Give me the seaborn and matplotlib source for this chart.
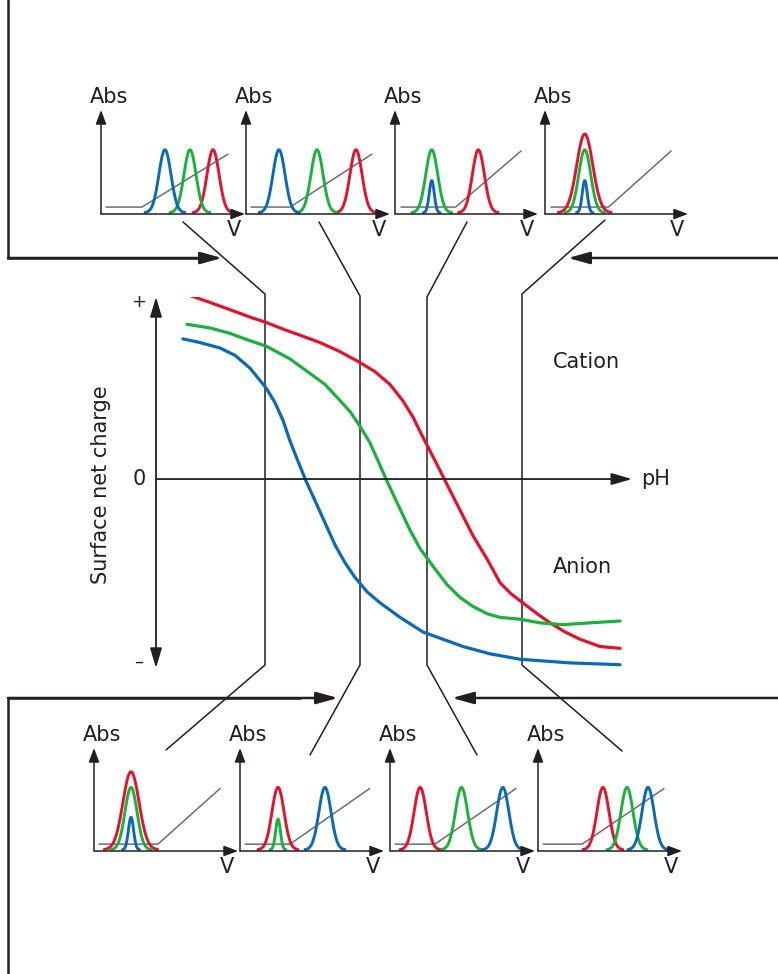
import numpy as np
import pandas as pd
import matplotlib
matplotlib.use('Agg')
import matplotlib.pyplot as plt
import seaborn as sns

sns.set_style('white')
plt.rcParams['font.family'] = ['DejaVu Sans']

RED, GREEN, BLUE = '#e1142d', '#1bb03f', '#0b69b6'
INK = '#231f20'
GREY = '#6d6e71'

# surface net charge vs pH, one curve per protein
red_ph = [0.97, 1.59, 2.18, 2.76, 3.24, 3.79, 4.24, 4.82, 5.41, 6.00, 6.44, 6.88, 7.26, 7.56, 7.85,
          8.21, 8.56, 8.94, 9.32, 9.74, 10.12, 10.44, 10.79, 11.21, 11.59, 12.03, 12.47, 13.06, 13.65]
red_charge = [1.01, 0.97, 0.93, 0.89, 0.86, 0.82, 0.79, 0.75, 0.70, 0.64, 0.59, 0.52, 0.43, 0.34, 0.23,
              0.10, -0.03, -0.17, -0.31, -0.44, -0.57, -0.63, -0.68, -0.74, -0.79, -0.84, -0.88, -0.92, -0.93]
green_ph = [0.91, 1.59, 2.18, 2.76, 3.24, 3.94, 4.53, 4.97, 5.32, 5.71, 6.00, 6.29, 6.53, 6.79,
            7.09, 7.47, 7.76, 8.15, 8.56, 8.94, 9.32, 9.74, 10.12, 10.71, 11.29, 11.97, 12.76, 13.65]
green_charge = [0.85, 0.83, 0.80, 0.76, 0.73, 0.66, 0.58, 0.52, 0.45, 0.37, 0.29, 0.20, 0.10, -0.01,
                -0.13, -0.28, -0.38, -0.48, -0.58, -0.65, -0.70, -0.74, -0.76, -0.77, -0.79, -0.80, -0.79, -0.78]
blue_ph = [0.79, 1.29, 1.88, 2.32, 2.76, 3.24, 3.50, 3.74, 3.94, 4.15, 4.41, 4.68, 4.97, 5.26, 5.56,
           5.85, 6.21, 6.59, 7.18, 7.85, 8.44, 9.03, 9.82, 10.71, 12.18, 13.65]
blue_charge = [0.77, 0.75, 0.72, 0.68, 0.61, 0.50, 0.42, 0.32, 0.21, 0.11, -0.01, -0.12, -0.24, -0.36, -0.46,
               -0.54, -0.62, -0.68, -0.76, -0.84, -0.88, -0.92, -0.96, -0.99, -1.01, -1.02]

# small elution profiles: peak position (V) and height (Abs), order red, green, blue
top_centres = [[7.78, 6.18, 4.44], [7.64, 4.93, 2.29], [5.83, 2.57, 2.57], [2.78, 2.78, 2.78]]
top_heights = [[1.0, 1.0, 1.0], [1.0, 1.0, 1.0], [1.0, 1.0, 0.51], [1.25, 1.0, 0.51]]
bottom_centres = [[2.57, 2.57, 2.57], [2.64, 2.64, 5.9], [2.08, 4.93, 7.78], [4.51, 6.18, 7.64]]
bottom_heights = [[1.25, 1.0, 0.52], [1.0, 0.49, 1.0], [1.0, 1.0, 1.0], [1.0, 1.0, 1.0]]
# gradient line: start V, ramp start V, ramp end V, end level
top_ramp = [[0.35, 2.85, 8.82, 0.95], [0.35, 3.06, 8.75, 0.95], [0.42, 4.24, 8.82, 1.0], [0.42, 4.44, 8.82, 1.0]]
bottom_ramp = [[0.35, 4.44, 8.75, 1.0], [0.35, 3.47, 9.0, 1.0], [0.35, 3.1, 8.68, 1.0], [0.35, 3.06, 8.75, 1.0]]
ramp_floor = 0.11

W, H = 778, 974
fig = plt.figure(figsize=(W / 100, H / 100), dpi=100)


def px_axes(x0, x1, ytop, ybot):
    a = fig.add_axes([x0 / W, 1 - ybot / H, (x1 - x0) / W, (ybot - ytop) / H])
    a.set_facecolor('none')
    a.axis('off')
    return a


def arrow(ax, start, end, lw, hl, hw, coords='data', style='-|>'):
    ax.annotate('', xy=end, xytext=start, xycoords=coords, textcoords=coords,
                arrowprops=dict(arrowstyle=f'{style},head_length={hl},head_width={hw}',
                                color=INK, lw=lw, shrinkA=0, shrinkB=0, mutation_scale=10),
                annotation_clip=False)


# overlay in pixel coordinates: connectors and feed arrows
ov = fig.add_axes([0, 0, 1, 1])
ov.set_xlim(0, W)
ov.set_ylim(H, 0)
ov.axis('off')

connectors = [
    [(183, 222), (265, 294), (265, 665), (166, 750)],
    [(319, 222), (360, 296), (360, 665), (310, 755)],
    [(467, 222), (427, 297), (427, 665), (477, 755)],
    [(605, 220), (522, 294), (522, 665), (622, 751)],
]
for c in connectors:
    xs, ys = zip(*c)
    ov.plot(xs, ys, color=INK, lw=1.1, solid_joinstyle='miter')

ov.plot([8, 8, 200], [0, 258, 258], color=INK, lw=1.8, solid_joinstyle='miter')
arrow(ov, (8, 258), (222, 258), 1.8, 1.3, 0.36)
arrow(ov, (778, 258), (568, 258), 1.8, 1.3, 0.36)
ov.plot([8, 8, 300], [974, 698, 698], color=INK, lw=1.8, solid_joinstyle='miter')
arrow(ov, (8, 698), (338, 698), 1.8, 1.3, 0.36)
arrow(ov, (778, 698), (452, 698), 1.8, 1.3, 0.36)

# main chart
main = px_axes(156, 632, 297, 668)
main.set_xlim(0, 14)
main.set_ylim(-1.038, 1.0)
arrow(main, (0, -1.038), (0, 1.0), 1.3, 1.2, 0.36, style='<|-|>')
arrow(main, (0, 0), (14, 0), 1.3, 1.25, 0.36)

curves = pd.concat([
    pd.DataFrame({'pH': red_ph, 'charge': red_charge, 'protein': 'red'}),
    pd.DataFrame({'pH': green_ph, 'charge': green_charge, 'protein': 'green'}),
    pd.DataFrame({'pH': blue_ph, 'charge': blue_charge, 'protein': 'blue'}),
])
sns.lineplot(data=curves, x='pH', y='charge', hue='protein',
             palette={'red': RED, 'green': GREEN, 'blue': BLUE},
             estimator=None, sort=False, lw=2.3, legend=False, ax=main)
main.axis('off')

ov.text(139, 302, '+', ha='center', va='center', fontsize=13, color=INK)
ov.text(139, 479, '0', ha='center', va='center', fontsize=15, color=INK)
ov.text(139, 662, '\u2013', ha='center', va='center', fontsize=13, color=INK)
ov.text(101, 485, 'Surface net charge', rotation=90, ha='center', va='center', fontsize=15, color=INK)
ov.text(641, 479, 'pH', ha='left', va='center', fontsize=15, color=INK)
ov.text(553, 362, 'Cation', ha='left', va='center', fontsize=15, color=INK)
ov.text(553, 567, 'Anion', ha='left', va='center', fontsize=15, color=INK)


def profile(ax, centres, heights, ramp):
    ax.set_xlim(0, 10)
    ax.set_ylim(0, 1.65)
    x0, r0, r1, level = ramp
    ax.plot([x0, r0, r1], [ramp_floor, ramp_floor, level], color=GREY, lw=1.1)
    for col, c, h in zip([RED, GREEN, BLUE], centres, heights):
        s = 0.42 * h ** 1.3
        v = np.linspace(c - 3.3 * s, c + 3.3 * s, 80)
        ax.plot(v, 0.02 + h * np.exp(-0.5 * ((v - c) / s) ** 2), color=col, lw=2.1)
    arrow(ax, (0, 0), (0, 1), 1.1, 0.85, 0.32, coords='axes fraction')
    arrow(ax, (0, 0), (1, 0), 1.1, 0.85, 0.32, coords='axes fraction')
    ax.text(-0.08, 1.125, 'Abs', transform=ax.transAxes, ha='left', va='center', fontsize=15, color=INK)
    ax.text(0.92, -0.155, 'V', transform=ax.transAxes, ha='center', va='center', fontsize=15, color=INK)


top_x = [(101, 245), (246, 390), (395, 538), (545, 688)]
bottom_x = [(94, 238), (240, 384), (390, 535), (538, 682)]
for (a, b), cen, hts, rp in zip(top_x, top_centres, top_heights, top_ramp):
    profile(px_axes(a, b, 110, 214), cen, hts, rp)
for (a, b), cen, hts, rp in zip(bottom_x, bottom_centres, bottom_heights, bottom_ramp):
    profile(px_axes(a, b, 748, 851), cen, hts, rp)

fig.savefig('out.png', dpi=100)
